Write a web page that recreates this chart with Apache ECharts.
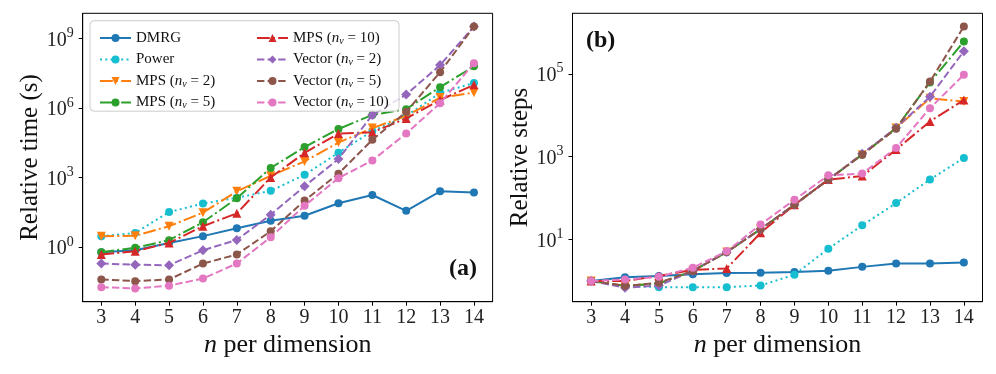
<!DOCTYPE html>
<html>
<head>
<meta charset="utf-8">
<script src="https://cdn.jsdelivr.net/npm/echarts@6/dist/echarts.min.js"></script>
<style>
html,body{margin:0;padding:0;background:#fff;}
#c{width:996px;height:374px;}
</style>
</head>
<body>
<div id="c"></div>
<script>
// ---- data ----
var nValues = [3, 4, 5, 6, 7, 8, 9, 10, 11, 12, 13, 14];
var xTicks = [3, 4, 5, 6, 7, 8, 9, 10, 11, 12, 13, 14];
var timeTickExp = [0, 3, 6, 9];
var stepTickExp = [1, 3, 5];
var seriesNames = ['DMRG', 'Power', 'MPS (n_v = 2)', 'MPS (n_v = 5)', 'MPS (n_v = 10)', 'Vector (n_v = 2)', 'Vector (n_v = 5)', 'Vector (n_v = 10)'];

// relative time (s)
var timeDMRG   = [0.59, 0.71, 1.48, 2.9, 6.3, 13.5, 22, 76, 174, 36, 251, 224];
var timePower  = [2.9, 4.0, 32, 74, 132, 263, 1290, 11700, 1.0e5, 4.5e5, 4.5e6, 1.2e7];
var timeMPS2   = [2.9, 3.0, 7.8, 30, 251, 1175, 4900, 32000, 1.35e5, 4.5e5, 2.8e6, 4.6e6];
var timeMPS5   = [0.59, 0.91, 1.95, 11.5, 126, 2570, 20400, 1.23e5, 5.0e5, 8.9e5, 7.9e6, 6.3e7];
var timeMPS10  = [0.47, 0.65, 1.48, 7.8, 28, 1000, 11500, 78000, 89000, 3.5e5, 2.2e6, 1.0e7];
var timeVec2   = [0.19, 0.17, 0.16, 0.71, 2.0, 24.5, 417, 6200, 5.0e5, 3.8e6, 7.1e7, 3.3e9];
var timeVec5   = [0.039, 0.033, 0.039, 0.19, 0.47, 4.7, 100, 1450, 42000, 6.8e5, 3.5e7, 3.3e9];
var timeVec10  = [0.018, 0.016, 0.021, 0.043, 0.19, 2.6, 60, 930, 5400, 79000, 1.6e6, 8.5e7];

// relative steps
var stepDMRG   = [1, 1.23, 1.32, 1.45, 1.55, 1.58, 1.64, 1.76, 2.19, 2.63, 2.63, 2.79];
var stepPower  = [1, 0.76, 0.71, 0.71, 0.71, 0.78, 1.41, 6.0, 22, 76, 280, 930];
var stepMPS2   = [1, 0.76, 0.87, 1.74, 5.0, 17.8, 69, 280, 1120, 4900, 25700, 21400];
var stepMPS5   = [1, 0.76, 0.87, 1.74, 5.0, 17.8, 69, 280, 1120, 4900, 62000, 6.0e5];
var stepMPS10  = [1, 1.0, 1.32, 1.86, 2.0, 14.5, 69, 280, 340, 1480, 7100, 23400];
var stepVec2   = [1, 0.69, 0.78, 1.74, 5.0, 17.8, 69, 280, 1170, 5000, 28000, 3.5e5];
var stepVec5   = [1, 0.76, 0.91, 1.74, 5.0, 17.8, 69, 280, 1120, 4700, 65000, 1.38e6];
var stepVec10  = [1, 1.08, 1.26, 2.1, 5.2, 23, 91, 355, 390, 1620, 14800, 95000];

var timeData = [timeDMRG, timePower, timeMPS2, timeMPS5, timeMPS10, timeVec2, timeVec5, timeVec10];
var stepData = [stepDMRG, stepPower, stepMPS2, stepMPS5, stepMPS10, stepVec2, stepVec5, stepVec10];

// ---- styles ----
var FONT = '"Liberation Serif", "DejaVu Serif", serif';
var colors = ['#1f77b4', '#17becf', '#ff7f0e', '#2ca02c', '#d62728', '#9467bd', '#8c564b', '#e377c2'];
var DOT = [2, 3.3], DASHDOT = [12.8, 3.2, 2, 3.2], DASH = [7.4, 3.2];
var dashes = ['solid', DOT, DASHDOT, DASHDOT, DASHDOT, DASH, DASH, DASH];
var symbols = ['circle', 'circle', 'triangle', 'circle', 'triangle', 'diamond', 'circle', 'circle'];
var symRot = [0, 0, 180, 0, 0, 0, 0, 0];
var symSize = [8, 8, 9, 8, 9, 10, 8, 8];

function log10(v) { return Math.log(v) / Math.LN10; }

function makeSeries(dataSets, axisIdx) {
  return dataSets.map(function (vals, k) {
    return {
      name: seriesNames[k],
      type: 'line',
      xAxisIndex: axisIdx,
      yAxisIndex: axisIdx,
      data: nValues.map(function (n, i) { return [n, log10(vals[i])]; }),
      symbol: symbols[k],
      symbolRotate: symRot[k],
      symbolSize: symSize[k],
      showSymbol: true,
      lineStyle: { color: colors[k], width: 2, type: dashes[k], cap: 'butt' },
      itemStyle: { color: colors[k], borderWidth: 0 },
      emphasis: { disabled: true },
      z: 2 + k * 0.01,
      animation: false
    };
  });
}

function xAxisCfg(idx) {
  return {
    type: 'value', gridIndex: idx, min: 2.45, max: 14.55,
    axisLine: { show: true, onZero: false, lineStyle: { color: '#000', width: 1 } },
    axisTick: { show: true, length: 4, customValues: xTicks, lineStyle: { color: '#000', width: 1 } },
    axisLabel: { customValues: xTicks, margin: 6, fontFamily: FONT, fontSize: 20, color: '#222' },
    splitLine: { show: false },
    name: '{i|n} per dimension', nameLocation: 'middle', nameGap: 30,
    nameTextStyle: { fontFamily: FONT, fontSize: 26, color: '#111',
      rich: { i: { fontFamily: FONT, fontStyle: 'italic', fontSize: 26, color: '#111' } } }
  };
}

function supLabel(v) { return '{b|10}{s|' + v + '}'; }

function yAxisCfg(idx, min, max, ticks, name, gap) {
  return {
    type: 'value', gridIndex: idx, min: min, max: max,
    axisLine: { show: true, onZero: false, lineStyle: { color: '#000', width: 1 } },
    axisTick: { show: true, length: 4, customValues: ticks, lineStyle: { color: '#000', width: 1 } },
    axisLabel: {
      customValues: ticks, margin: 9, formatter: supLabel,
      rich: {
        b: { fontFamily: FONT, fontSize: 20, color: '#222', lineHeight: 24, verticalAlign: 'bottom' },
        s: { fontFamily: FONT, fontSize: 14, color: '#222', lineHeight: 14, verticalAlign: 'top' }
      }
    },
    splitLine: { show: false },
    name: name, nameLocation: 'middle', nameRotate: 90, nameGap: gap,
    nameTextStyle: { fontFamily: FONT, fontSize: 25, color: '#111' }
  };
}

var legendRich = {
  i: { fontFamily: FONT, fontStyle: 'italic', fontSize: 15, color: '#111', lineHeight: 16 },
  s: { fontFamily: FONT, fontStyle: 'italic', fontSize: 10, color: '#111', lineHeight: 16, padding: [6, 0, 0, 0] }
};
function legendFmt(name) { return name.replace('n_v', '{i|n}{s|v}'); }
function legendCfg(names, left) {
  return {
    data: names, orient: 'vertical', left: left, top: 25,
    itemWidth: 31, itemHeight: 10, itemGap: 5.5,
    selectedMode: false,
    formatter: legendFmt,
    textStyle: { fontFamily: FONT, fontSize: 15, color: '#111', lineHeight: 16, rich: legendRich },
    z: 5
  };
}

var option = {
  animation: false,
  backgroundColor: '#fff',
  grid: [
    { left: 82.7, right: 503.4, top: 13.3, bottom: 72.3, show: true, borderColor: '#000', borderWidth: 1 },
    { left: 572.5, right: 13.5, top: 13.3, bottom: 72.3, show: true, borderColor: '#000', borderWidth: 1 }
  ],
  xAxis: [xAxisCfg(0), xAxisCfg(1)],
  yAxis: [
    yAxisCfg(0, -2.37, 10.09, timeTickExp, 'Relative time (s)', 38),
    yAxisCfg(1, -0.5, 6.46, stepTickExp, 'Relative steps', 40)
  ],
  legend: [legendCfg(seriesNames.slice(0, 4), 94), legendCfg(seriesNames.slice(4), 251)],
  graphic: [
    { type: 'rect', z: 3, shape: { x: 90, y: 20.7, width: 309, height: 90.5, r: 4 },
      style: { fill: 'rgba(255,255,255,0.8)', stroke: '#cccccc', lineWidth: 1 } },
    { type: 'text', z: 6, x: 477, y: 269, style: { text: '(a)', font: 'bold 24px ' + FONT, fill: '#111', textAlign: 'right', textVerticalAlign: 'middle' } },
    { type: 'text', z: 6, x: 586, y: 41, style: { text: '(b)', font: 'bold 24px ' + FONT, fill: '#111', textAlign: 'left', textVerticalAlign: 'middle' } }
  ],
  series: makeSeries(timeData, 0).concat(makeSeries(stepData, 1))
};

var chart = echarts.init(document.getElementById('c'), null, { renderer: 'canvas' });
chart.setOption(option);
</script>
</body>
</html>
